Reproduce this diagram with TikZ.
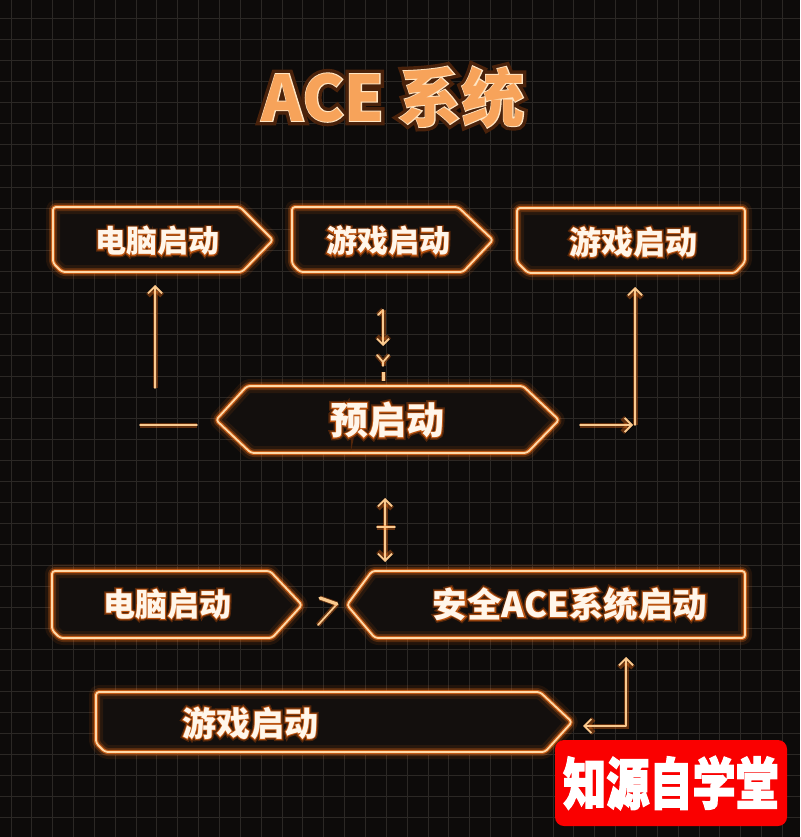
\documentclass[tikz,border=0pt]{standalone}
\usepackage{fontspec}
\newfontfamily\cjk{Noto Sans CJK SC}
\newfontfamily\cjkt{Noto Sans CJK SC}[BoldFeatures={FakeBold=14}]
\newfontfamily\cjkg{Noto Sans CJK SC}[BoldFeatures={FakeBold=13}]
\newfontfamily\cjkh{Noto Sans CJK SC}[BoldFeatures={FakeBold=5}]
\newfontfamily\cjke{Noto Sans CJK SC}[BoldFeatures={FakeBold=3}]
\newfontfamily\cjkl{Noto Sans CJK SC}[BoldFeatures={FakeBold=2.5}]
\usetikzlibrary{arrows.meta,calc}
\definecolor{bgc}{HTML}{0D0B0A}
\definecolor{gridc}{HTML}{2B2825}
\definecolor{boxfill}{HTML}{130F0D}
\definecolor{glowc}{HTML}{FF7418}
\definecolor{glowA}{HTML}{52260B}
\definecolor{glowB}{HTML}{BC5410}
\definecolor{glowT}{HTML}{4A220B}
\definecolor{edgec}{HTML}{FFD9A8}
\definecolor{arrc}{HTML}{F9C98E}
\definecolor{txtc}{HTML}{FFF6EA}
\definecolor{titlec}{HTML}{F7A35A}
\definecolor{titleedge}{HTML}{FFE6C4}
\definecolor{logored}{HTML}{FA0000}
\newcommand\gbox[1]{%
  \fill[boxfill, rounded corners=3pt] #1;
  \draw[line width=14pt, glowc, opacity=.09, rounded corners=3pt, line join=round] #1;
  \draw[line width=8pt, glowc, opacity=.22, rounded corners=3pt, line join=round] #1;
  \draw[line width=4.2pt, glowc, opacity=.65, rounded corners=3pt, line join=round] #1;
  \draw[line width=1.8pt, edgec, rounded corners=3pt, line join=round] #1;}
\newcommand\gtext[4]{%
  \node[font=\cjkg\bfseries\fontsize{#3}{#3}\selectfont, text=glowA, inner sep=0pt] at (#2) {#4};
  \node[font=\cjkh\bfseries\fontsize{#3}{#3}\selectfont, text=glowB, inner sep=0pt] at (#2) {#4};
  \node[font=\cjk\bfseries\fontsize{#3}{#3}\selectfont, text=txtc, inner sep=0pt] (#1) at (#2) {#4};}
\tikzset{
  conn/.style={draw=arrc, line width=1.8pt, line cap=round, line join=round,
    preaction={draw=glowc, line width=5pt, opacity=.35}},
  tip/.style={-{Straight Barb[length=7pt,width=14pt]}},
  tips/.style={{Straight Barb[length=7pt,width=14pt]}-{Straight Barb[length=7pt,width=14pt]}}
}
\begin{document}
\begin{tikzpicture}[x=1pt,y=-1pt]
\useasboundingbox (0,0) rectangle (800,837);
\fill[bgc] (0,0) rectangle (800,837);
\foreach \i in {0,...,38}{\draw[gridc, line width=1pt] ({11+\i*20.85},0) -- ({11+\i*20.85},837);}
\foreach \j in {0,...,39}{\draw[gridc, line width=1pt] (0,{19+\j*21}) -- (800,{19+\j*21});}

% title
\node[font=\cjkt\bfseries\fontsize{63}{63}\selectfont, text=glowT] at (393,97) {ACE 系统};
\node[font=\cjke\bfseries\fontsize{63}{63}\selectfont, text=titleedge] at (393,97) {ACE 系统};
\node[font=\cjk\bfseries\fontsize{63}{63}\selectfont, text=titlec] (title) at (393,97) {ACE 系统};

% boxes
\gbox{(53,207) -- (240,207) -- (273,240) -- (242,272) -- (62,272) -- (53,263) -- cycle}
\gbox{(292,207) -- (458,207) -- (493,240) -- (463,272) -- (300,272) -- (292,264) -- cycle}
\gbox{(517,208) -- (745,208) -- (745,262) -- (735,273) -- (528,273) -- (517,262) -- cycle}
\gbox{(247,386) -- (523,386) -- (559,420) -- (527,453) -- (251,453) -- (216,420) -- cycle}
\gbox{(52,571) -- (270,571) -- (302,605) -- (272,638) -- (60,638) -- (52,630) -- cycle}
\gbox{(372,571) -- (745,571) -- (745,638) -- (375,638) -- (347,605) -- cycle}
\gbox{(96,692) -- (540,692) -- (572,722) -- (545,752) -- (105,752) -- (96,743) -- cycle}

% texts
\gtext{t1}{157,241}{31}{电脑启动}
\gtext{t2}{388,241}{31}{游戏启动}
\gtext{t3}{633,242}{32}{游戏启动}
\gtext{pre}{387,420}{38}{预启动}
\gtext{b1}{167,604}{32}{电脑启动}
\gtext{ace}{570,604}{34.5}{安全ACE系统启动}
\gtext{b3}{250,723}{34}{游戏启动}

% connectors
\coordinate (la1) at (155,388); \coordinate (la2) at (155,285);
\coordinate (lh1) at (140,425); \coordinate (lh2) at (197,425);
\coordinate (rh1) at (580,425); \coordinate (rh2) at (633,425);
\coordinate (rv1) at (635,425); \coordinate (rv2) at (635,287);
\draw[conn, tip] (la1) -- (la2);
\draw[conn] (lh1) -- (lh2);
\draw[conn, tip] (rh1) -- (rh2);
\draw[conn, tip] (rv1) -- (rv2);

\coordinate (m1) at (383,310); \coordinate (m2) at (383,346);
\coordinate (mf) at (378,315);
\draw[conn] (mf) -- (m1);
\draw[conn, -{Straight Barb[length=6pt,width=12pt]}] (m1) -- (m2);
\coordinate (ya) at (377,355); \coordinate (yb) at (383,362); \coordinate (yc) at (389,355); \coordinate (yd) at (383,366);
\draw[conn] (ya) -- (yb) -- (yc);
\draw[conn] (yb) -- (yd);
\coordinate (s1) at (383,372); \coordinate (s2) at (383,381);
\draw[conn, line width=3pt, line cap=butt] (s1) -- (s2);

\coordinate (d1) at (385,498); \coordinate (d2) at (385,562);
\coordinate (c1) at (377,527); \coordinate (c2) at (395,527);
\draw[conn, tips] (d1) -- (d2);
\draw[conn] (c1) -- (c2);

\coordinate (v1) at (318,625); \coordinate (v2) at (337,604); \coordinate (v3) at (320,598);
\draw[conn] (v1) -- (v2);
\draw[conn, line width=3.2pt] (v3) -- (v2);

\coordinate (e1) at (583,726); \coordinate (e2) at (626,726); \coordinate (e3) at (626,657);
\draw[conn, tips] (e1) -- (e2) -- (e3);

% logo
\node[fill=logored, rounded corners=9pt, minimum width=232pt, minimum height=86pt, inner sep=0pt] (logo) at (671,783) {};
\node[font=\cjkl\bfseries\fontsize{56}{56}\selectfont, text=white, inner sep=0pt, xscale=0.77] (logot) at (logo.center) {知源自学堂};
\end{tikzpicture}
\end{document}
